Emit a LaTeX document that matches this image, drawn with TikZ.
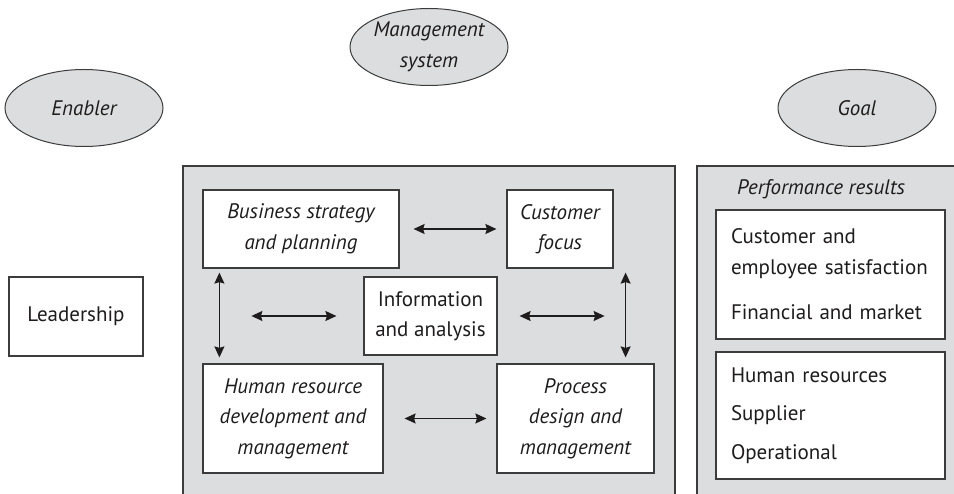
\documentclass[tikz,border=0pt]{standalone}
\usepackage{fontspec}
\setmainfont{PT Sans}
\usetikzlibrary{positioning,calc,shapes.geometric,arrows.meta}
\definecolor{PanelGray}{RGB}{220,221,223}
\definecolor{EdgeGray}{RGB}{60,60,60}
\definecolor{InkDark}{RGB}{30,28,28}

\tikzset{
  box/.style={draw=EdgeGray,fill=white,line width=1.2pt,align=center,inner sep=0pt,
    text=InkDark,font=\fontsize{21}{30.5}\selectfont},
  itbox/.style={box,font=\fontsize{21}{30.5}\selectfont\itshape},
  resbox/.style={box,align=left,text width=199pt,inner xsep=15pt},
  oval/.style={ellipse,draw=EdgeGray,fill=PanelGray,line width=1pt,inner sep=-6pt,
    align=center,text=InkDark,font=\fontsize{21}{30.5}\selectfont\itshape,
    minimum width=158pt,minimum height=77pt},
  link/.style={{Stealth[length=11pt,width=10pt,inset=1.5pt]}-{Stealth[length=11pt,width=10pt,inset=1.5pt]},
    line width=1.3pt,InkDark},
}

\begin{document}
\begin{tikzpicture}[x=1pt,y=-1pt]
    \useasboundingbox (0,0) rectangle (954,494);
    \clip (0,0) rectangle (954,494);
    % grey panels
    \filldraw[fill=PanelGray,draw=EdgeGray,line width=1.2pt] (183,166) rectangle (675,510);
    \filldraw[fill=PanelGray,draw=EdgeGray,line width=1.2pt] (697,166) rectangle (970,510);
    % ovals
    \node[oval] (enabler) at (84,108) {Enabler};
    \node[oval] (mgmt) at (429,47) {Management\\system};
    \node[oval] (goal) at (857,108) {Goal};
    % enabler side
    \node[box,minimum width=134pt,minimum height=79pt] (leader) at (76,316.5) {Leadership};
    % management system
    \node[itbox,minimum width=196pt,minimum height=78pt] (bsp) at (301,229) {Business strategy\\and planning};
    \node[itbox,minimum width=106pt,minimum height=78pt] (cf) at (560,229) {Customer\\focus};
    \node[box,minimum width=133pt,minimum height=78pt] (info) at (430.5,316) {Information\\and analysis};
    \node[itbox,minimum width=180pt,minimum height=109pt] (hr) at (293,418.5) {Human resource\\development and\\management};
    \node[itbox,minimum width=157pt,minimum height=109pt] (pd) at (575.5,418.5) {Process\\design and\\management};
    % goal side
    \node[text=InkDark,font=\fontsize{21}{30.5}\selectfont\itshape] (perf) at (821,189) {Performance results};
    \node[resbox,minimum height=129pt] (res1) at (830.5,274.5) {Customer and\\employee satisfaction\\[15pt]Financial and market};
    \node[resbox,minimum height=127pt] (res2) at (830.5,415.5) {Human resources\\[8pt]Supplier\\[8pt]Operational};
    % arrows
    \draw[link] ([xshift=14pt]bsp.east) -- ([xshift=-10pt]cf.west);
    \draw[link] ([xshift=17pt,yshift=-4pt]bsp.south west) -- ([xshift=17pt,yshift=6pt]hr.north west);
    \draw[link] ([xshift=12pt,yshift=-4pt]cf.south east) -- ([xshift=-29pt,yshift=6pt]pd.north east);
    \draw[link] ([xshift=-27pt]info.west) -- ([xshift=-112pt]info.west);
    \draw[link] ([xshift=22pt]info.east) -- ([xshift=107pt]info.east);
    \draw[link] ([xshift=21pt]hr.east) -- ([xshift=-10pt]pd.west);
\end{tikzpicture}
\end{document}
